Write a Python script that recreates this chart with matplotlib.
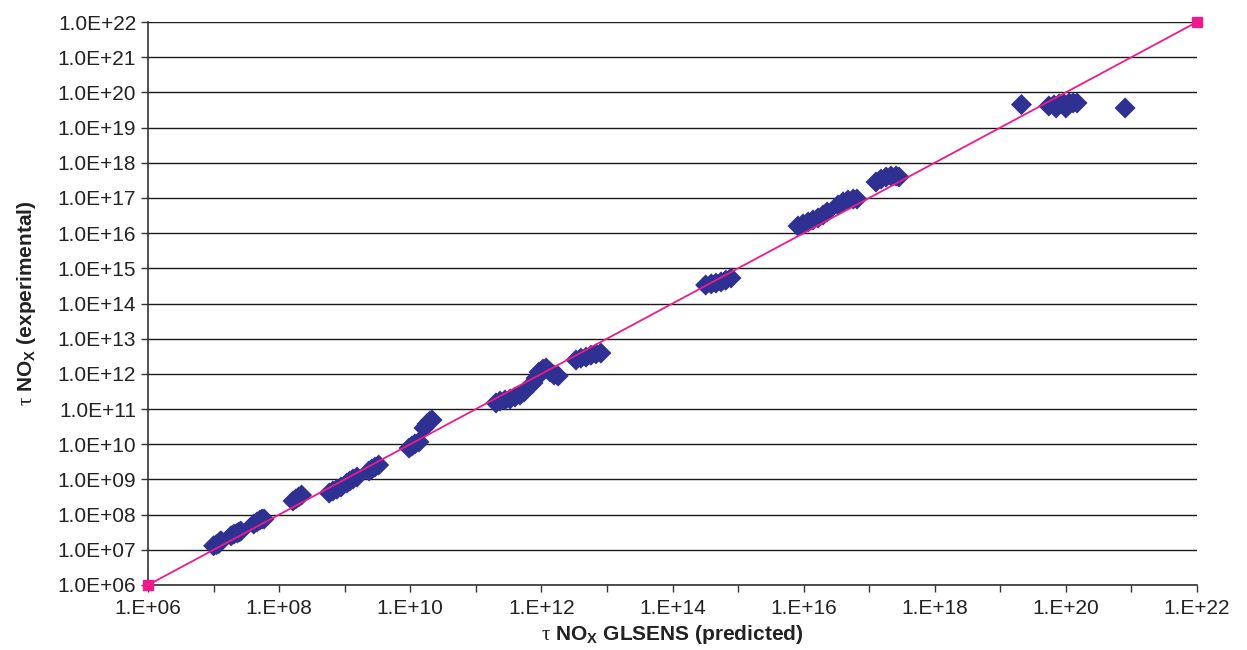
import numpy as np
import matplotlib.pyplot as plt
from matplotlib.ticker import FixedLocator, FuncFormatter, NullLocator, NullFormatter

plt.rcParams['font.family'] = ['Liberation Sans', 'DejaVu Sans']
plt.rcParams['mathtext.fontset'] = 'custom'
plt.rcParams['mathtext.rm'] = 'Liberation Serif'
plt.rcParams['mathtext.bf'] = 'Liberation Sans:bold'

# predicted (GLSENS) vs experimental tau NOx
tau_pred = [
    1.0e7, 1.1e7, 1.2e7, 1.25e7, 1.3e7,
    1.85e7, 2.05e7, 2.3e7, 2.45e7, 2.6e7,
    4.1e7, 4.6e7, 5.1e7, 5.5e7, 5.9e7,
    1.63e8, 1.8e8, 2.0e8, 2.2e8,
    5.8e8, 6.6e8, 7.6e8, 8.8e8,
    1.08e9, 1.2e9, 1.34e9, 1.54e9,
    2.35e9, 2.6e9, 2.9e9, 3.3e9,
    9.6e9, 1.06e10, 1.18e10, 1.36e10,
    1.62e10, 1.8e10, 2.0e10, 2.15e10,
    2.03e11, 2.34e11, 2.79e11, 3.33e11, 3.96e11, 4.72e11, 5.43e11,
    7.45e11, 8.3e11, 9.2e11, 1.06e12, 1.18e12, 1.36e12, 1.56e12, 1.8e12,
    3.37e12, 4.0e12, 4.8e12, 5.7e12, 6.8e12, 8.1e12,
    3.2e14, 3.9e14, 4.6e14, 5.5e14, 6.5e14, 7.8e14,
    8.2e15, 9.8e15, 1.17e16, 1.39e16, 1.66e16, 1.98e16, 2.28e16,
    3.35e16, 4.0e16, 4.75e16, 5.7e16, 6.5e16,
    1.27e17, 1.52e17, 1.81e17, 2.15e17, 2.57e17, 2.85e17,
    2.1e19,
    5.5e19, 6.6e19, 7.9e19, 9.4e19, 1.12e20, 1.29e20, 1.48e20, 7.1e19, 1.0e20,
    8.0e20,
]
tau_exp = [
    1.3e7, 1.4e7, 1.5e7, 1.7e7, 1.8e7,
    2.5e7, 2.8e7, 3.0e7, 3.2e7, 3.4e7,
    5.4e7, 6.2e7, 7.0e7, 7.5e7, 7.5e7,
    2.44e8, 2.8e8, 3.2e8, 3.6e8,
    4.1e8, 4.7e8, 5.3e8, 6.1e8,
    7.9e8, 9.0e8, 1.03e9, 1.17e9,
    1.74e9, 1.98e9, 2.25e9, 2.57e9,
    7.8e9, 8.9e9, 1.02e10, 1.16e10,
    2.9e10, 3.76e10, 4.6e10, 4.9e10,
    1.49e11, 1.69e11, 1.81e11, 1.93e11, 2.2e11, 2.5e11, 3.05e11,
    5.5e11, 7.6e11, 1.13e12, 1.37e12, 1.47e12, 1.13e12, 9.3e11, 8.7e11,
    2.48e12, 2.8e12, 3.0e12, 3.4e12, 3.7e12, 3.9e12,
    3.35e14, 3.6e14, 3.8e14, 4.1e14, 4.6e14, 5.3e14,
    1.59e16, 1.82e16, 2.07e16, 2.36e16, 2.69e16, 3.27e16, 3.98e16,
    6.3e16, 7.7e16, 8.7e16, 9.3e16, 9.3e16,
    2.83e17, 3.44e17, 3.93e17, 4.2e17, 4.2e17, 3.93e17,
    4.5e19,
    4.1e19, 4.4e19, 4.7e19, 4.7e19, 5.0e19, 5.0e19, 5.0e19, 3.6e19, 3.6e19,
    3.6e19,
]

# 1:1 line
line_x = [1e6, 1e22]
line_y = [1e6, 1e22]

fig = plt.figure(figsize=(12.47, 6.5), dpi=100)
ax = fig.add_axes([148/1247, 1 - 585/650, (1197-148)/1247, (585-22)/650])

ax.scatter(tau_pred, tau_exp, marker='D', s=115, color='#2E3192',
           edgecolors='none', zorder=3)
ax.plot(line_x, line_y, color='#EE1A8C', lw=1.3, marker='s', ms=7,
        clip_on=False, zorder=4)

ax.set_xscale('log')
ax.set_yscale('log')
ax.set_xlim(1e6, 1e22)
ax.set_ylim(1e6, 1e22)

# y ticks every decade, horizontal grid
ax.yaxis.set_major_locator(FixedLocator([10.0**k for k in range(6, 23)]))
ax.yaxis.set_minor_locator(NullLocator())
ax.yaxis.set_major_formatter(FuncFormatter(lambda v, p: '1.0E+%02d' % round(np.log10(v))))

# x ticks every decade, labels every second one
ax.xaxis.set_major_locator(FixedLocator([10.0**k for k in range(6, 23, 2)]))
ax.xaxis.set_minor_locator(FixedLocator([10.0**k for k in range(7, 22, 2)]))
ax.xaxis.set_major_formatter(FuncFormatter(lambda v, p: '1.E+%02d' % round(np.log10(v))))
ax.xaxis.set_minor_formatter(NullFormatter())

ax.grid(axis='y', which='major', color='#1a1a1a', lw=1)
ax.set_axisbelow(True)
ax.tick_params(axis='both', which='both', direction='out', length=5, width=1,
               color='#333333', labelsize=15, labelcolor='#222222')
ax.tick_params(axis='x', pad=5)

for s in ['top', 'right']:
    ax.spines[s].set_visible(False)
for s in ['left', 'bottom']:
    ax.spines[s].set_color('#333333')
    ax.spines[s].set_linewidth(1.2)

ax.set_xlabel(r'$\mathrm{\tau}$ NO$_\mathbf{X}$ GLSENS (predicted)', fontsize=15,
              fontweight='bold', color='#222222', labelpad=4)
ax.set_ylabel(r'$\mathrm{\tau}$ NO$_\mathbf{X}$ (experimental)', fontsize=15,
              fontweight='bold', color='#222222', labelpad=14)

fig.savefig('out.png', dpi=100)
